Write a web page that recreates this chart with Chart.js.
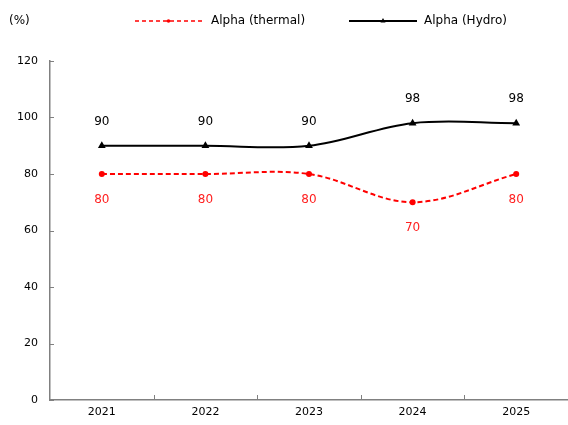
<!DOCTYPE html>
<html>
<head>
<meta charset="utf-8">
<script src="https://cdn.jsdelivr.net/npm/chart.js@4/dist/chart.umd.min.js"></script>
<style>
  html, body { margin: 0; padding: 0; background: #fff; overflow: hidden; }
  canvas { display: block; }
</style>
</head>
<body>
<canvas id="c" width="568" height="425"></canvas>
<script>
const years = ['2021', '2022', '2023', '2024', '2025'];
const thermal = [80, 80, 80, 70, 80];
const hydro = [90, 90, 90, 98, 98];
const yTicks = [0, 20, 40, 60, 80, 100, 120];
const seriesNames = ['Alpha (thermal)', 'Alpha (Hydro)'];
const unitLabel = '(%)';

const FONT = 'DejaVu Sans, Verdana, sans-serif';
const AXIS_COLOR = '#808080';

// Short inward tick marks on both axes (between categories on x)
const innerTicks = {
  id: 'innerTicks',
  afterDraw(chart) {
    const ctx = chart.ctx, x = chart.scales.x, y = chart.scales.y;
    const a = chart.chartArea;
    ctx.save();
    ctx.strokeStyle = AXIS_COLOR;
    ctx.lineWidth = 1;
    for (let i = 1; i < years.length; i++) {
      const px = Math.round((x.getPixelForTick(i - 1) + x.getPixelForTick(i)) / 2) + 0.5;
      ctx.beginPath(); ctx.moveTo(px, a.bottom); ctx.lineTo(px, a.bottom - 5); ctx.stroke();
    }
    yTicks.forEach(v => {
      const py = Math.round(y.getPixelForValue(v)) + 0.5;
      ctx.beginPath(); ctx.moveTo(a.left, py); ctx.lineTo(a.left + 4, py); ctx.stroke();
    });
    ctx.restore();
  }
};

// Value labels: hydro above its points, thermal below
const valueLabels = {
  id: 'valueLabels',
  afterDatasetsDraw(chart) {
    const ctx = chart.ctx;
    ctx.save();
    ctx.font = '12px ' + FONT;
    ctx.textAlign = 'center';
    ctx.textBaseline = 'middle';
    chart.data.datasets.forEach((ds, di) => {
      const meta = chart.getDatasetMeta(di);
      const off = ds.labelSide === 'above' ? -24 : 26;
      meta.data.forEach((pt, i) => {
        ctx.fillStyle = ds.labelColor;
        ctx.fillText(String(ds.data[i]), pt.x, pt.y + off);
      });
    });
    ctx.restore();
  }
};

// Legend row and unit caption across the top
const topLegend = {
  id: 'topLegend',
  afterDraw(chart) {
    const ctx = chart.ctx;
    ctx.save();
    ctx.font = '12px ' + FONT;
    ctx.textBaseline = 'middle';
    ctx.fillStyle = '#000';
    ctx.textAlign = 'left';
    ctx.fillText(unitLabel, 9, 21);
    const items = [
      { x0: 135, x1: 202, tx: 211, w: 1.6 },
      { x0: 349, x1: 417, tx: 424, w: 2 }
    ];
    const ly = 21;
    chart.data.datasets.forEach((ds, di) => {
      const it = items[di];
      ctx.strokeStyle = ds.borderColor;
      ctx.lineWidth = it.w;
      ctx.setLineDash(ds.borderDash ? [4, 3] : []);
      ctx.beginPath(); ctx.moveTo(it.x0, ly); ctx.lineTo(it.x1, ly); ctx.stroke();
      ctx.setLineDash([]);
      const cx = (it.x0 + it.x1) / 2;
      ctx.fillStyle = ds.pointBackgroundColor;
      ctx.beginPath();
      if (ds.pointStyle === 'triangle') {
        ctx.moveTo(cx, ly - 3); ctx.lineTo(cx + 2.5, ly + 1.5); ctx.lineTo(cx - 2.5, ly + 1.5);
      } else {
        ctx.arc(cx, ly, 1.8, 0, Math.PI * 2);
      }
      ctx.closePath(); ctx.fill();
      ctx.fillStyle = '#000';
      ctx.fillText(ds.label, it.tx, ly);
    });
    ctx.restore();
  }
};

new Chart(document.getElementById('c'), {
  type: 'line',
  data: {
    labels: years,
    datasets: [
      {
        label: seriesNames[0],
        data: thermal,
        borderColor: '#ff0000',
        borderWidth: 2,
        borderDash: [5, 3],
        pointStyle: 'circle',
        pointRadius: 3,
        pointBackgroundColor: '#ff0000',
        pointBorderColor: '#ff0000',
        pointBorderWidth: 0,
        tension: 0.35,
        labelSide: 'below',
        labelColor: '#ff2020'
      },
      {
        label: seriesNames[1],
        data: hydro,
        borderColor: '#000000',
        borderWidth: 2,
        pointStyle: 'triangle',
        pointRadius: 4.5,
        pointBackgroundColor: '#000000',
        pointBorderColor: '#000000',
        pointBorderWidth: 0,
        tension: 0.35,
        labelSide: 'above',
        labelColor: '#000000'
      }
    ]
  },
  options: {
    responsive: false,
    animation: false,
    layout: { autoPadding: false, padding: { top: 61, right: 0, bottom: 0, left: 0 } },
    plugins: { legend: { display: false }, tooltip: { enabled: false } },
    scales: {
      x: {
        offset: true,
        grid: { display: false, drawTicks: false },
        border: { display: true, color: AXIS_COLOR, width: 1.5 },
        ticks: { color: '#000', font: { family: FONT, size: 11 }, padding: 6, maxRotation: 0 },
        afterFit(scale) { scale.height = 25; scale.paddingLeft = 0; scale.paddingRight = 0; }
      },
      y: {
        min: 0, max: 120,
        grid: { display: false, drawTicks: false },
        border: { display: true, color: AXIS_COLOR, width: 1.5 },
        ticks: { stepSize: 20, color: '#000', font: { family: FONT, size: 11 }, padding: 12 },
        afterFit(scale) { scale.width = 50; }
      }
    }
  },
  plugins: [innerTicks, valueLabels, topLegend]
});
</script>
</body>
</html>
